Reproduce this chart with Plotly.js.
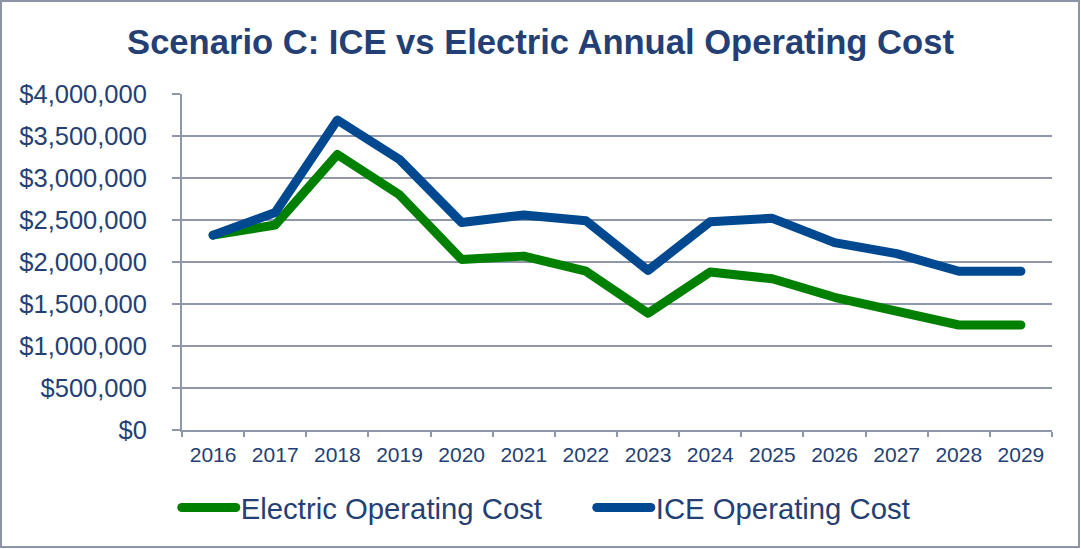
<!DOCTYPE html>
<html>
<head>
<meta charset="utf-8">
<script src="https://cdn.plot.ly/plotly-3.0.1.min.js"></script>
<style>
  html, body { margin: 0; padding: 0; background: #ffffff; }
  #chart { width: 1081px; height: 549px; }
  #frame { position: absolute; left: 0; top: 0; width: 1080px; height: 548px; box-sizing: border-box;
           border: 2px solid #8c94a7; pointer-events: none; }
  .scatterlayer path.js-line, .legend path.js-line { stroke-linecap: round; stroke-linejoin: round; }
</style>
</head>
<body>
<div id="chart"></div>
<div id="frame"></div>
<script>
const years = ["2016","2017","2018","2019","2020","2021","2022","2023","2024","2025","2026","2027","2028","2029"];
const electricCost = [2320000, 2440000, 3280000, 2800000, 2030000, 2070000, 1890000, 1390000, 1880000, 1800000, 1580000, 1420000, 1250000, 1250000];
const iceCost = [2320000, 2590000, 3690000, 3220000, 2470000, 2560000, 2490000, 1900000, 2480000, 2520000, 2230000, 2100000, 1890000, 1890000];
const seriesNames = ["Electric Operating Cost", "ICE Operating Cost"];
const titleText = "Scenario C: ICE vs Electric Annual Operating Cost";

const navy = "#243f73";
const gridGray = "#8f97aa";

const traces = [
  { x: years, y: electricCost, name: seriesNames[0], type: "scatter", mode: "lines",
    line: { color: "#008000", width: 9 }, hoverinfo: "x+y" },
  { x: years, y: iceCost, name: seriesNames[1], type: "scatter", mode: "lines",
    line: { color: "#004990", width: 9 }, hoverinfo: "x+y" }
];

const layout = {
  width: 1081, height: 549,
  margin: { l: 182, r: 29, t: 94, b: 119, pad: 0 },
  paper_bgcolor: "#ffffff", plot_bgcolor: "#ffffff",
  font: { family: "Liberation Sans, Arial, sans-serif", color: navy },
  title: { text: titleText, font: { size: 34.6, color: navy, family: "Liberation Sans, Arial, sans-serif", weight: "bold" },
           x: 0.5, xanchor: "center", xref: "container", y: 1 - 42/549, yref: "container", yanchor: "middle" },
  showlegend: true,
  legend: { orientation: "h", x: -0.006, xanchor: "left", y: -0.232, yanchor: "middle",
            font: { size: 29.3, color: navy }, itemwidth: 54, entrywidth: 346, tracegroupgap: 0, bgcolor: "rgba(0,0,0,0)" },
  xaxis: {
    type: "category", range: [-0.5, years.length - 0.5], tickson: "boundaries", ticks: "outside", ticklen: 5, tickwidth: 2, tickcolor: gridGray,
    showline: true, linecolor: gridGray, linewidth: 2, showgrid: false, zeroline: false,
    tickfont: { size: 21, color: navy }, ticklabelstandoff: 5, fixedrange: true
  },
  yaxis: {
    range: [0, 4000000], dtick: 500000, tick0: 0, tickprefix: "$", tickformat: ",.0f", separatethousands: true,
    ticks: "outside", ticklen: 8, tickwidth: 2, tickcolor: gridGray,
    showline: true, linecolor: gridGray, linewidth: 2,
    showgrid: true, gridcolor: gridGray, gridwidth: 2, zeroline: false,
    tickfont: { size: 25.5, color: navy }, ticklabelstandoff: 20, fixedrange: true
  }
};

Plotly.newPlot("chart", traces, layout, { displayModeBar: false, staticPlot: true });
</script>
</body>
</html>
